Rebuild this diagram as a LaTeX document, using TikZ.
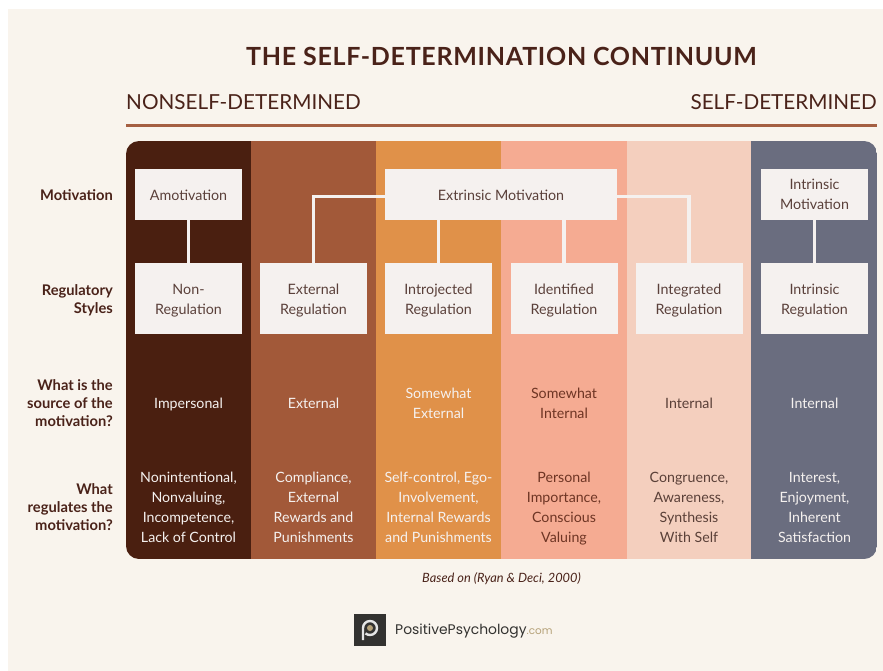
\documentclass[tikz,border=0pt]{standalone}
\usepackage{fontspec}
\setmainfont{Lato}
\newfontfamily\logofont{Poppins}
\newfontfamily\titlefont[LetterSpace=2.9,BoldFont={Lato Bold}]{Lato}
\definecolor{pagebg}{HTML}{F9F4ED}
\definecolor{colA}{HTML}{4A1F10}
\definecolor{colB}{HTML}{A25939}
\definecolor{colC}{HTML}{E09149}
\definecolor{colD}{HTML}{F5AB92}
\definecolor{colE}{HTML}{F4CFBE}
\definecolor{colF}{HTML}{6A6D7F}
\definecolor{boxfill}{HTML}{F5F1EF}
\definecolor{inkdark}{HTML}{4A2219}
\definecolor{rulecol}{HTML}{A55F42}
\definecolor{boxtext}{HTML}{5A403A}
\definecolor{cellD}{HTML}{6E3524}
\definecolor{cellE}{HTML}{5A4038}
\definecolor{logobg}{HTML}{333230}
\definecolor{logotan}{HTML}{B5A178}
\newcommand{\sx}{\vphantom{Ag}}
\newcommand{\st}{\rule{0pt}{14pt}}
\newcommand{\sm}{\rule{0pt}{12pt}}
\tikzset{
  x=1pt,y=-1pt,
  panel/.style={fill=boxfill,draw=none,inner sep=0pt,align=center,text=boxtext,font=\fontsize{14.3}{20}\selectfont},
  smallbox/.style={panel,minimum width=107pt,minimum height=51pt},
  regbox/.style={panel,minimum width=107pt,minimum height=71pt},
  link/.style={draw=boxfill,line width=3.5pt},
  celltext/.style={text=boxfill,align=center,inner sep=0pt,font=\fontsize{14.2}{20}\selectfont},
  rowlabel/.style={text=inkdark,align=right,anchor=east,inner sep=0pt,font=\bfseries\fontsize{14.7}{18}\selectfont},
  band/.style={inner sep=0pt,text=inkdark,font=\fontsize{20.7}{24}\selectfont},
}
\begin{document}
\begin{tikzpicture}
\useasboundingbox (0,0) rectangle (883,671);
\fill[white] (0,0) rectangle (883,671);
\fill[pagebg] (8,9) rectangle (883,671);
% columns
\begin{scope}
\clip[rounded corners=13pt] (126,141) rectangle (877,559);
\fill[colA] (126,141) rectangle (251,559);
\fill[colB] (251,141) rectangle (376,559);
\fill[colC] (376,141) rectangle (501,559);
\fill[colD] (501,141) rectangle (627,559);
\fill[colE] (627,141) rectangle (751,559);
\fill[colF] (751,141) rectangle (877,559);
\end{scope}
% headings
\node[inner sep=0pt,text=inkdark,font=\titlefont\bfseries\fontsize{25}{30}\selectfont] (title) at (501.5,56) {THE SELF-DETERMINATION CONTINUUM};
\node[band,anchor=west] (nonself) at (126,102) {NONSELF-DETERMINED};
\node[band,anchor=east] (self) at (877,102) {SELF-DETERMINED};
\coordinate (ruleL) at (126,126);
\coordinate (ruleR) at (877,126);
\draw[rulecol,line width=3pt] (ruleL) -- (ruleR);
% row labels
\node[rowlabel] (lab1) at (113,194.5) {\st Motivation\sx};
\node[rowlabel] (lab2) at (113,298.5) {\st Regulatory\\Styles\sx};
\node[rowlabel] (lab3) at (113,403) {\st What is the\\source of the\\motivation?\sx};
\node[rowlabel] (lab4) at (113,507) {\st What\\regulates the\\motivation?\sx};
% boxes and connectors
\coordinate (midL) at (501,196.5);
\node[smallbox] (amot) at (188.5,194.5) {\st Amotivation\sx};
\node[panel,minimum width=232pt,minimum height=51pt] (extr) at (501,194.5) {\st Extrinsic Motivation\sx};
\node[smallbox] (intr) at (814.5,194.5) {\sm Intrinsic\\Motivation\sx};
\node[regbox] (nonreg) at (188.5,298.5) {\st Non-\\Regulation\sx};
\node[regbox] (extreg) at (313.5,298.5) {\st External\\Regulation\sx};
\node[regbox] (introj) at (438.5,298.5) {\st Introjected\\Regulation\sx};
\node[regbox] (ident) at (564,298.5) {\st Identified\\Regulation\sx};
\node[regbox] (integ) at (689,298.5) {\st Integrated\\Regulation\sx};
\node[regbox] (intreg) at (814.5,298.5) {\st Intrinsic\\Regulation\sx};
\draw[link] (amot) -- (nonreg);
\draw[link] (intr) -- (intreg);
\draw[link] (extr.west |- midL) -| (extreg.north);
\draw[link] (extr.east |- midL) -| (integ.north);
\draw[link] (introj.north) -- (introj.north |- extr.south);
\draw[link] (ident.north) -- (ident.north |- extr.south);
% source row
\node[celltext] (s1) at (188.5,403) {\st Impersonal\sx};
\node[celltext] (s2) at (313.5,403) {\st External\sx};
\node[celltext] (s3) at (438.5,403) {\st Somewhat\\External\sx};
\node[celltext,text=cellD] (s4) at (564,403) {\st Somewhat\\Internal\sx};
\node[celltext,text=cellE] (s5) at (689,403) {\st Internal\sx};
\node[celltext] (s6) at (814.5,403) {\st Internal\sx};
% regulates row
\node[celltext] (r1) at (188.5,506.6) {\st Nonintentional,\\Nonvaluing,\\Incompetence,\\Lack of Control\sx};
\node[celltext] (r2) at (313.5,506.6) {\st Compliance,\\External\\Rewards and\\Punishments\sx};
\node[celltext] (r3) at (438.5,506.6) {\st Self-control, Ego-\\Involvement,\\Internal Rewards\\and Punishments\sx};
\node[celltext,text=cellD] (r4) at (564,506.6) {\st Personal\\Importance,\\Conscious\\Valuing\sx};
\node[celltext,text=cellE] (r5) at (689,506.6) {\st Congruence,\\Awareness,\\Synthesis\\With Self\sx};
\node[celltext] (r6) at (814.5,506.6) {\st Interest,\\Enjoyment,\\Inherent\\Satisfaction\sx};
% footer
\node[inner sep=0pt,text=inkdark,font=\itshape\fontsize{12.8}{15}\selectfont] (src) at (501.5,578.5) {Based on (Ryan \& Deci, 2000)};
\fill[logobg] (354,614) rectangle (385.5,645.5);
\draw[white!90!black,line width=2.4pt] (363,640) -- (363,628) arc[start angle=180,end angle=-130,radius=7pt];
\fill[logotan] (370,628) circle (3pt);
\node[inner sep=0pt,anchor=west,font=\logofont\fontsize{13.9}{16}\selectfont,text=logobg] (logo) at (395,631) {PositivePsychology\textcolor{logotan}{\fontsize{10.4}{12}\selectfont.com}};
\end{tikzpicture}
\end{document}
